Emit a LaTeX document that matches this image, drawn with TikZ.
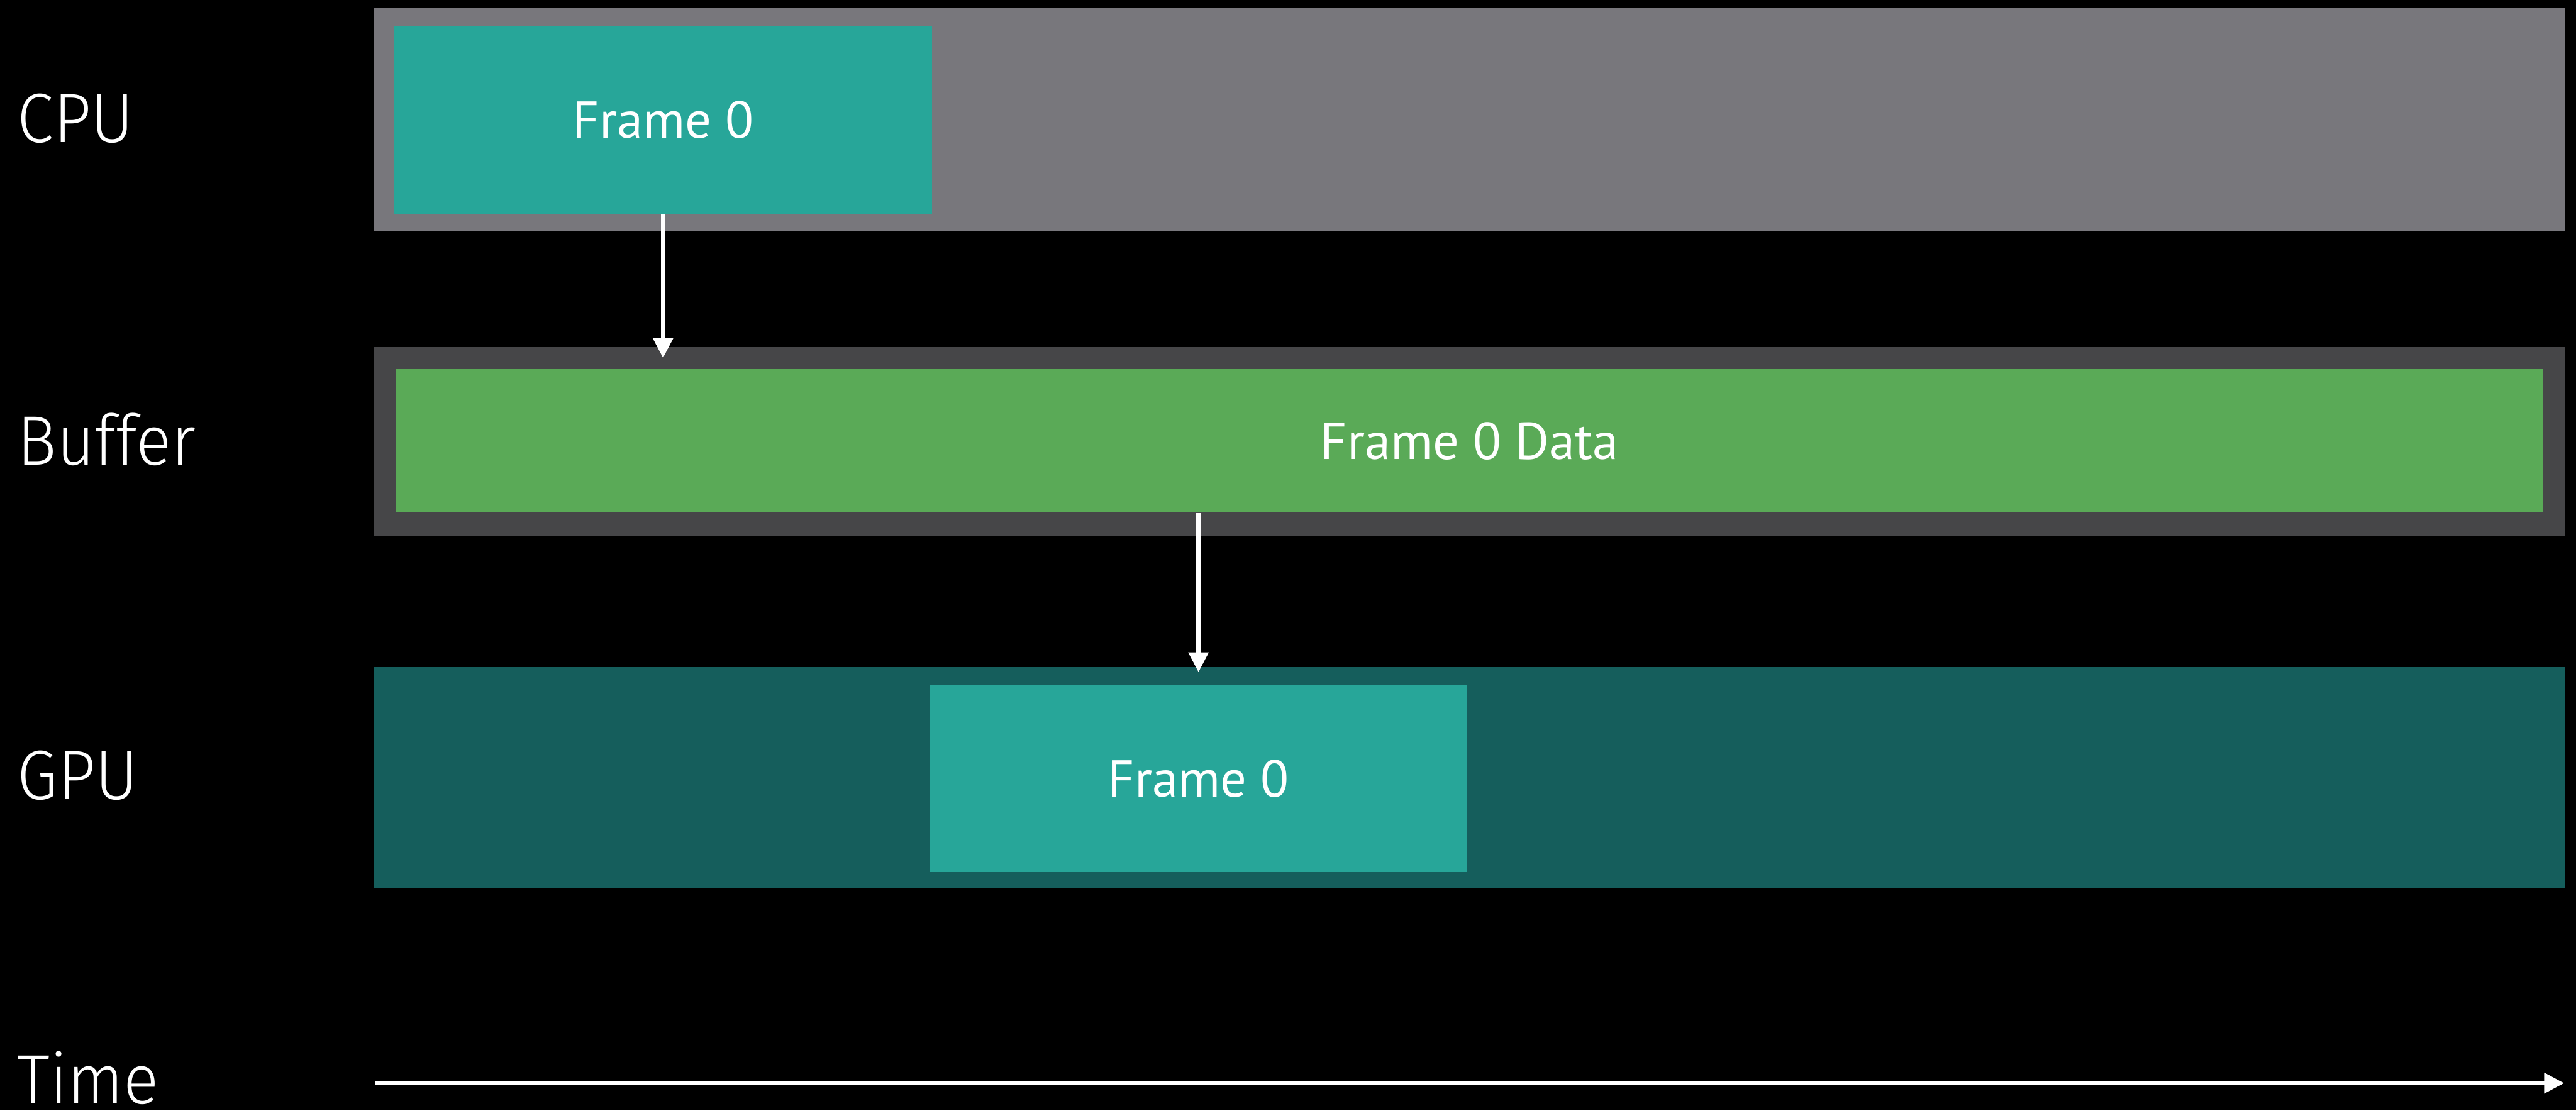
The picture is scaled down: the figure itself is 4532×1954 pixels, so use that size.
\documentclass[tikz,border=0pt]{standalone}
\usepackage{fontspec}
\setmainfont{PT Sans}
\newfontfamily\rowfont{Fira Sans Light}[FakeStretch=0.94]
\usetikzlibrary{arrows.meta}

\definecolor{cpulaneC}{HTML}{78777C}
\definecolor{buflaneC}{HTML}{464648}
\definecolor{gpulaneC}{HTML}{155E5C}
\definecolor{frameC}{HTML}{27A699}
\definecolor{dataC}{HTML}{5AAA57}

\tikzset{
  lane/.style={rectangle, inner sep=0pt, minimum width=38.52cm},
  framebox/.style={rectangle, inner sep=0pt, fill=frameC, text=white,
    minimum width=9.45cm, minimum height=3.30cm, font=\fontsize{26}{30}\selectfont},
  rowlabel/.style={anchor=base west, inner sep=0pt, text=white,
    font=\rowfont\fontsize{35}{40}\selectfont},
  flow/.style={draw=white, line width=2.2pt,
    -{Triangle[length=0.35cm, width=0.34cm]}},
  timeaxis/.style={draw=white, line width=2pt,
    -{Triangle[length=0.35cm, width=0.35cm]}}
}

\begin{document}
\begin{tikzpicture}[x=0.01cm, y=-0.01cm]
  % page and background
  \fill[black] (0,0) rectangle (4532,1954);
  \useasboundingbox (0,0) rectangle (4532,1954);

  % lanes
  \node[lane, fill=cpulaneC, minimum height=3.93cm] (cpulane) at (2585,210.5) {};
  \node[lane, fill=buflaneC, minimum height=3.32cm] (buflane) at (2585,777) {};
  \node[lane, fill=gpulaneC, minimum height=3.90cm] (gpulane) at (2585,1368.5) {};

  % row labels
  \node[rowlabel] (lcpu) at (30,251) {CPU};
  \node[rowlabel] (lbuf) at (30,818) {Buffer};
  \node[rowlabel] (lgpu) at (30,1407) {GPU};
  \node[rowlabel] (ltime) at (30,1942) {Time};

  % work items
  \node[framebox] (cpuframe) at (1166.5,211) {Frame 0};
  \node[rectangle, inner sep=0pt, fill=dataC, text=white,
        minimum width=37.76cm, minimum height=2.52cm,
        font=\fontsize{26}{30}\selectfont] (bufdata) at (2585,776) {Frame 0 Data};
  \node[framebox] (gpuframe) at (2108.5,1370) {Frame 0};

  % hand-off arrows
  \coordinate (a1end) at (1166.5,630);
  \coordinate (a2end) at (2108.5,1183);
  \draw[flow] (cpuframe.south) -- (a1end);
  \draw[flow] (gpuframe.north |- bufdata.south) -- (a2end);

  % time axis
  \coordinate (t0) at (659,1906);
  \coordinate (t1) at (4511,1906);
  \draw[timeaxis] (t0) -- (t1);
\end{tikzpicture}
\end{document}
